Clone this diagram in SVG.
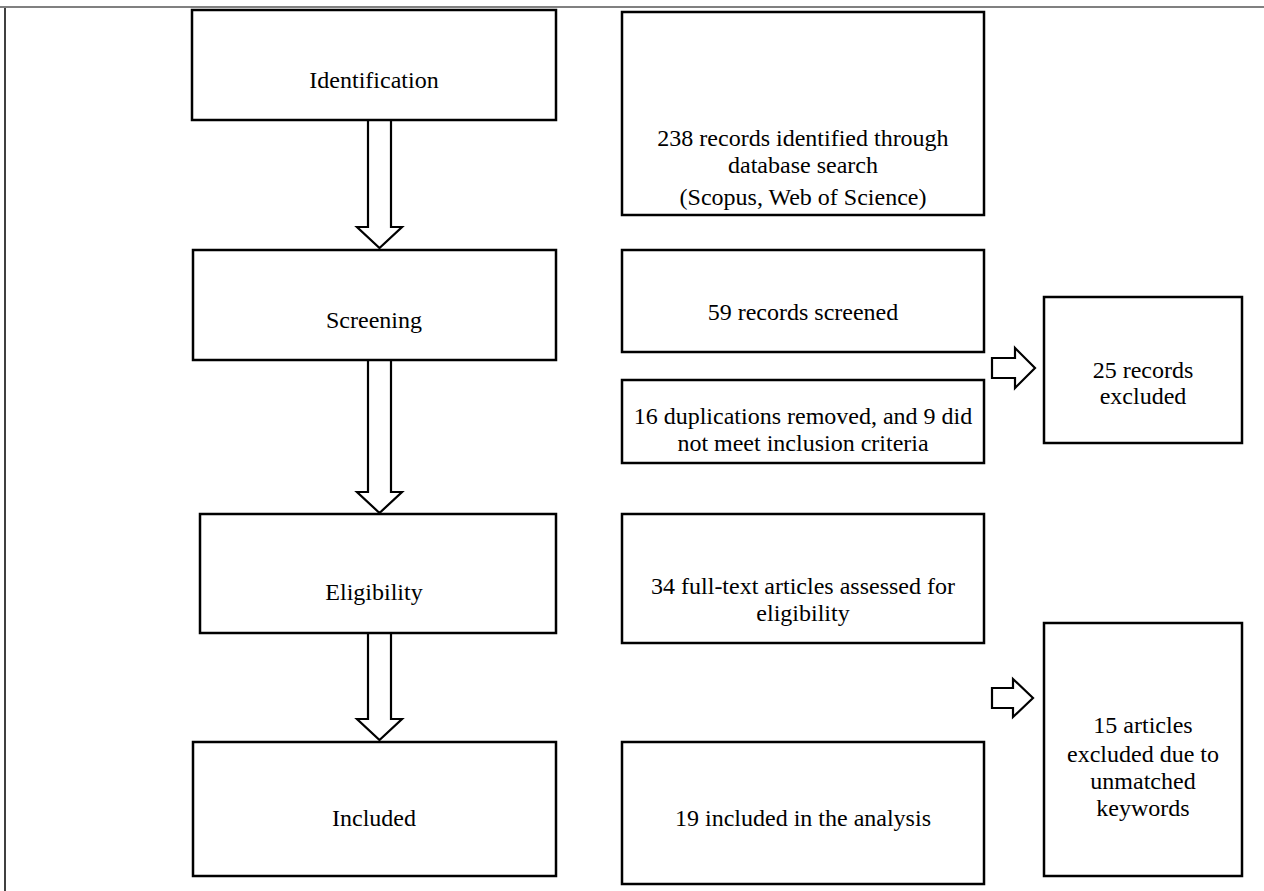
<svg xmlns="http://www.w3.org/2000/svg" width="1264" height="891" viewBox="0 0 1264 891">
<style>
.box{fill:#fff;stroke:#000;stroke-width:2.5}
.arr{fill:#fff;stroke:#000;stroke-width:2.2;stroke-linejoin:miter}
text{font-family:"Liberation Serif","Times New Roman",serif;font-size:24px;fill:#000;text-anchor:middle}
</style>
<rect width="1264" height="891" fill="#fff"/>
<g id="frame">
<line x1="0" y1="7" x2="1264" y2="7" stroke="#808080" stroke-width="2"/>
<line x1="5" y1="8" x2="5" y2="891" stroke="#000" stroke-width="1.5"/>
</g>
<g id="connectors">
<polygon class="arr" points="368,120 391,120 391,227 402,227 379.5,248 357,227 368,227"/>
<polygon class="arr" points="368,360 391,360 391,492 402,492 379.5,513 357,492 368,492"/>
<polygon class="arr" points="368,633 391,633 391,719 402,719 379.5,740 357,719 368,719"/>
<polygon class="arr" points="992,358 1015,358 1015,348 1035,368 1015,388 1015,378 992,378"/>
<polygon class="arr" points="992,688 1013,688 1013,679 1033,698 1013,717 1013,708 992,708"/>
</g>
<g id="identification"><rect class="box" x="192" y="10" width="364" height="110"/><text x="374" y="88">Identification</text></g>
<g id="screening"><rect class="box" x="193" y="250" width="363" height="110"/><text x="374" y="328">Screening</text></g>
<g id="eligibility"><rect class="box" x="200" y="514" width="356" height="119"/><text x="374" y="600">Eligibility</text></g>
<g id="included"><rect class="box" x="193" y="742" width="363" height="134"/><text x="374" y="826">Included</text></g>
<g id="records-identified"><rect class="box" x="622" y="12" width="362" height="203"/><text x="803" y="146">238 records identified through</text><text x="803" y="173">database search</text><text x="803" y="205">(Scopus, Web of Science)</text></g>
<g id="records-screened"><rect class="box" x="622" y="250" width="362" height="102"/><text x="803" y="320">59 records screened</text></g>
<g id="duplications"><rect class="box" x="622" y="380" width="362" height="83"/><text x="803" y="424">16 duplications removed, and 9 did</text><text x="803" y="451">not meet inclusion criteria</text></g>
<g id="full-text"><rect class="box" x="622" y="514" width="362" height="129"/><text x="803" y="594">34 full-text articles assessed for</text><text x="803" y="621">eligibility</text></g>
<g id="included-analysis"><rect class="box" x="622" y="742" width="362" height="142"/><text x="803" y="826">19 included in the analysis</text></g>
<g id="records-excluded"><rect class="box" x="1044" y="297" width="198" height="146"/><text x="1143" y="378">25 records</text><text x="1143" y="404">excluded</text></g>
<g id="articles-excluded"><rect class="box" x="1044" y="623" width="198" height="253"/><text x="1143" y="733">15 articles</text><text x="1143" y="762">excluded due to</text><text x="1143" y="789">unmatched</text><text x="1143" y="816">keywords</text></g>
</svg>
